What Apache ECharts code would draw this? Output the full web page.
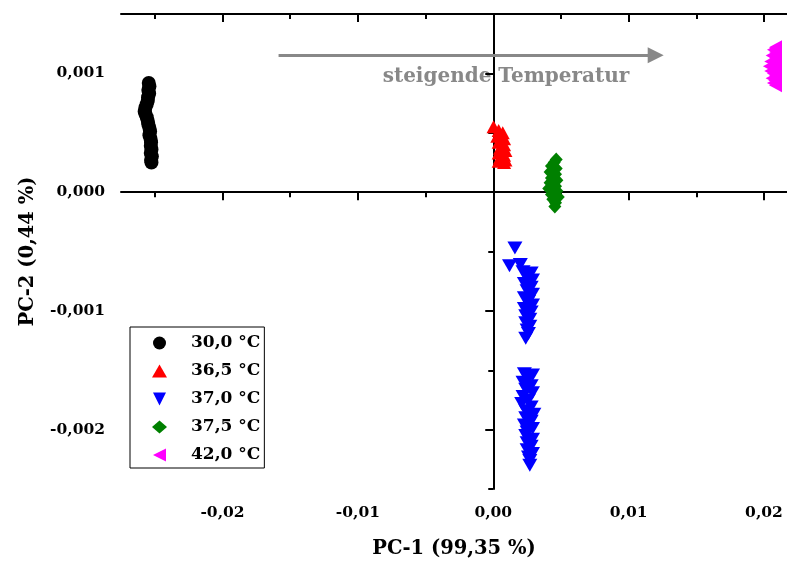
<!DOCTYPE html>
<html><head><meta charset="utf-8">
<script src="https://cdn.jsdelivr.net/npm/echarts@6/dist/echarts.min.js"></script>
<style>html,body{margin:0;padding:0;background:#fff}#c{width:787px;height:564px}</style>
</head><body><div id="c"></div>
<script>
const FONT = 'DejaVu Serif';
const xMajorTicks = [-0.02, -0.01, 0, 0.01, 0.02];
const xMinorTicks = [-0.025, -0.015, -0.005, 0.005, 0.015];
const yMajorTicks = [-0.002, -0.001, 0, 0.001];
const yMinorTicks = [-0.0025, -0.0015, -0.0005, 0.0005, 0.0015];
const seriesNames = ['30,0 °C', '36,5 °C', '37,0 °C', '37,5 °C', '42,0 °C'];

const data30 = [[-0.02545,0.00092],[-0.0254,0.00089],[-0.02548,0.00086],[-0.02542,0.00083],[-0.0255,0.0008],[-0.02552,0.00077],[-0.0256,0.00074],[-0.0257,0.00071],[-0.02575,0.00068],[-0.0257,0.00066],[-0.0256,0.00063],[-0.02552,0.0006],[-0.02548,0.00057],[-0.0254,0.00054],[-0.02535,0.00051],[-0.0254,0.00048],[-0.02532,0.00045],[-0.02528,0.00042],[-0.0253,0.00039],[-0.02525,0.00036],[-0.0253,0.00033],[-0.02522,0.0003],[-0.02528,0.00027],[-0.02525,0.00025]];
const data365 = [[0.00002,0.00055],[0.0004,0.00052],[0.0007,0.0005],[0.0003,0.00047],[0.0008,0.00045],[0.0004,0.00042],[0.0008,0.0004],[0.0005,0.00037],[0.0009,0.00035],[0.0004,0.00033],[0.0008,0.00031],[0.0005,0.00029],[0.0009,0.00027],[0.0004,0.00026],[0.0008,0.00025]];
const data370 = [[0.0016,-0.00047],[0.0012,-0.00062],[0.002,-0.00061],
 [0.0022,-0.00067],[0.0028,-0.00068],[0.0025,-0.00071],[0.0029,-0.00074],[0.0023,-0.00077],[0.0028,-0.0008],[0.0025,-0.00083],[0.0029,-0.00086],[0.0023,-0.00089],[0.0026,-0.00092],[0.0029,-0.00095],[0.0023,-0.00098],[0.0028,-0.00101],[0.0024,-0.00104],[0.0027,-0.00107],[0.0024,-0.0011],[0.0027,-0.00113],[0.0025,-0.00116],[0.0026,-0.00119],[0.0024,-0.00123],
 [0.0023,-0.00153],[0.0029,-0.00154],[0.0026,-0.00157],[0.0022,-0.0016],[0.0028,-0.00163],[0.0024,-0.00166],[0.0029,-0.00169],[0.0022,-0.00172],[0.0026,-0.00175],[0.0021,-0.00178],[0.0028,-0.00181],[0.0024,-0.00184],[0.003,-0.00187],[0.0024,-0.0019],[0.0028,-0.00193],[0.0023,-0.00196],[0.0029,-0.00199],[0.0025,-0.00202],[0.0024,-0.00205],[0.0029,-0.00208],[0.0025,-0.00211],[0.0028,-0.00214],[0.0025,-0.00217],[0.0029,-0.0022],[0.0026,-0.00223],[0.0027,-0.00226],[0.0027,-0.0023]];
const data375 = [[0.00465,0.000275],[0.0045,0.00025],[0.0043,0.00022],[0.00465,0.0002],[0.0042,0.00017],[0.0046,0.00015],[0.0043,0.00012],[0.0047,0.0001],[0.0042,0.00008],[0.0046,0.00005],[0.0041,0.00003],[0.0047,0.00001],[0.0043,-0.00002],[0.0048,-0.00004],[0.0044,-0.00006],[0.0046,-0.00009],[0.00455,-0.00012]];
const data420 = [[0.02085,0.00122],[0.0207,0.0012],[0.02085,0.00118],[0.0206,0.00115],[0.02085,0.00113],[0.0205,0.0011],[0.0208,0.00108],[0.0204,0.00106],[0.02085,0.00104],[0.0205,0.00102],[0.0207,0.001],[0.02085,0.00098],[0.0206,0.00096],[0.0208,0.00094],[0.0207,0.00092],[0.02085,0.0009]];

const arrowStart = [-0.01586, 0.001153];
const arrowEnd = [0.0120, 0.001153];
const annotationText = 'steigende Temperatur';

const fmtX = v => v.toFixed(2).replace('.', ',');
const fmtY = v => v.toFixed(3).replace('.', ',');
const black = '#000';
const XMIN = -0.0275, XMAX = 0.0217, YMIN = -0.0025, YMAX = 0.0015;

function xAx(pos, ticks, len, inside, main) {
  return {
    type: 'value', position: pos, min: XMIN, max: XMAX,
    axisLine: { show: main, lineStyle: { color: black, width: 2 } },
    axisTick: { show: true, customValues: ticks, inside: inside, length: len, lineStyle: { color: black, width: 2 } },
    axisLabel: pos === 'bottom' && main ? { show: true, customValues: ticks, formatter: fmtX, margin: 16,
      fontFamily: FONT, fontWeight: 'bold', fontSize: 15.5, color: black } : { show: false },
    splitLine: { show: false },
    name: pos === 'bottom' && main ? 'PC-1 (99,35 %)' : '',
    nameLocation: 'middle', nameGap: 50,
    nameTextStyle: { fontFamily: FONT, fontWeight: 'bold', fontSize: 19.5, color: black }
  };
}
function yAx(ticks, len, main) {
  return {
    type: 'value', position: 'left', min: YMIN, max: YMAX,
    axisLine: { show: main, lineStyle: { color: black, width: 2 } },
    axisTick: { show: true, customValues: ticks, inside: false, length: len, lineStyle: { color: black, width: 2 } },
    axisLabel: main ? { show: true, customValues: ticks, formatter: fmtY, margin: 16,
      fontFamily: FONT, fontWeight: 'bold', fontSize: 15.5, color: black } : { show: false },
    splitLine: { show: false },
    name: main ? 'PC-2 (0,44 %)' : '',
    nameLocation: 'middle', nameGap: 83,
    nameTextStyle: { fontFamily: FONT, fontWeight: 'bold', fontSize: 19.5, color: black }
  };
}

const chart = echarts.init(document.getElementById('c'));
chart.setOption({
  animation: false,
  backgroundColor: '#fff',
  grid: { left: 121, top: 14, right: 0, bottom: 74, containLabel: false },
  xAxis: [
    xAx('bottom', xMajorTicks, 8, false, true),
    xAx('bottom', xMinorTicks, 5, false, false),
    xAx('top', xMajorTicks, 8, true, true),
    xAx('top', xMinorTicks, 5, true, false)
  ],
  yAxis: [ yAx(yMajorTicks, 8, true), yAx(yMinorTicks, 5, false) ],
  legend: {
    orient: 'vertical', left: 130, top: 327,
    padding: [6, 4, 3, 22], itemGap: 8, itemWidth: 15, itemHeight: 13,
    borderColor: black, borderWidth: 1, backgroundColor: '#fff',
    textStyle: { fontFamily: FONT, fontWeight: 'bold', fontSize: 17, color: black, lineHeight: 20, padding: [0, 0, 0, 19] },
    data: seriesNames
  },
  graphic: [{
    type: 'text', x: 506, y: 77, silent: true,
    style: { text: annotationText, align: 'center', verticalAlign: 'middle',
      font: 'bold 20px "DejaVu Serif"', fill: '#888888' }
  }],
  series: [
    { name: seriesNames[0], type: 'scatter', data: data30, symbol: 'circle', symbolSize: 14,
      itemStyle: { color: '#000000', opacity: 1 },
      markLine: { silent: true, symbol: 'none', z: 1, label: { show: false },
        lineStyle: { color: black, width: 2, type: 'solid' },
        data: [{ xAxis: 0 }, { yAxis: 0 }] } },
    { name: seriesNames[1], type: 'scatter', data: data365, symbol: 'triangle', symbolSize: [14, 13],
      itemStyle: { color: '#ff0000', opacity: 1 },
      markLine: { silent: true, symbol: ['none', 'triangle'], symbolSize: 16, z: 1, label: { show: false },
        lineStyle: { color: '#888888', width: 3, type: 'solid' },
        data: [[{ coord: arrowStart }, { coord: arrowEnd }]] } },
    { name: seriesNames[2], type: 'scatter', data: data370, symbol: 'path://M0,0L10,0L5,10Z', symbolSize: [15, 13],
      itemStyle: { color: '#0000ff', opacity: 1 } },
    { name: seriesNames[3], type: 'scatter', data: data375, symbol: 'diamond', symbolSize: [13, 14],
      itemStyle: { color: '#008000', opacity: 1 } },
    { name: seriesNames[4], type: 'scatter', data: data420, symbol: 'path://M10,0L10,10L0,5Z', symbolSize: [13, 14],
      itemStyle: { color: '#ff00ff', opacity: 1 } }
  ]
});
</script></body></html>
